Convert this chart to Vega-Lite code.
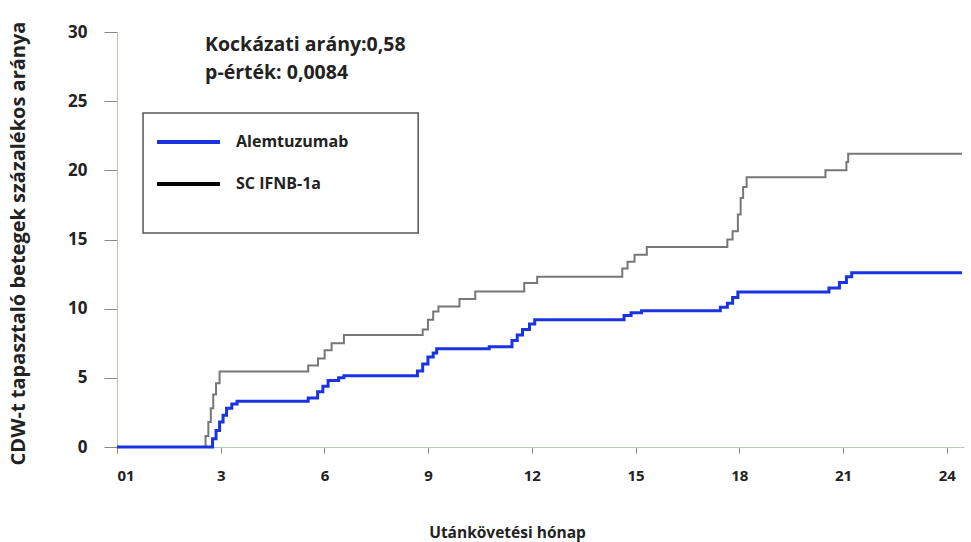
{
  "$schema": "https://vega.github.io/schema/vega-lite/v6.json",
  "width": 847,
  "height": 415,
  "autosize": {"type": "none"},
  "padding": {"left": 117, "top": 32, "right": 7, "bottom": 95},
  "background": "white",
  "config": {
    "view": {"stroke": null},
    "font": "Open Sans",
    "axis": {"grid": false, "labelFont": "Open Sans", "labelFontWeight": "bold", "labelColor": "#222", "titleFont": "Open Sans", "titleFontWeight": "bold", "titleColor": "#222", "domainColor": "#b3cfae", "tickColor": "#888"},
    "legend": {"labelFont": "Open Sans", "labelFontWeight": "bold", "labelColor": "#222"}
  },
  "datasets": {
    "curves": [
      {"m": 0, "v": 0, "g": "SC IFNB-1a"},
      {"m": 2.511, "v": 0, "g": "SC IFNB-1a"},
      {"m": 2.561, "v": 0.8, "g": "SC IFNB-1a"},
      {"m": 2.642, "v": 1.8, "g": "SC IFNB-1a"},
      {"m": 2.713, "v": 2.8, "g": "SC IFNB-1a"},
      {"m": 2.784, "v": 3.8, "g": "SC IFNB-1a"},
      {"m": 2.865, "v": 4.6, "g": "SC IFNB-1a"},
      {"m": 2.967, "v": 5.45, "g": "SC IFNB-1a"},
      {"m": 5.53, "v": 5.9, "g": "SC IFNB-1a"},
      {"m": 5.813, "v": 6.4, "g": "SC IFNB-1a"},
      {"m": 6.006, "v": 7.0, "g": "SC IFNB-1a"},
      {"m": 6.208, "v": 7.5, "g": "SC IFNB-1a"},
      {"m": 6.563, "v": 8.1, "g": "SC IFNB-1a"},
      {"m": 8.842, "v": 8.5, "g": "SC IFNB-1a"},
      {"m": 8.994, "v": 9.2, "g": "SC IFNB-1a"},
      {"m": 9.146, "v": 9.8, "g": "SC IFNB-1a"},
      {"m": 9.298, "v": 10.15, "g": "SC IFNB-1a"},
      {"m": 9.906, "v": 10.7, "g": "SC IFNB-1a"},
      {"m": 10.362, "v": 11.25, "g": "SC IFNB-1a"},
      {"m": 11.78, "v": 11.85, "g": "SC IFNB-1a"},
      {"m": 12.154, "v": 12.3, "g": "SC IFNB-1a"},
      {"m": 14.616, "v": 12.9, "g": "SC IFNB-1a"},
      {"m": 14.768, "v": 13.4, "g": "SC IFNB-1a"},
      {"m": 14.971, "v": 13.9, "g": "SC IFNB-1a"},
      {"m": 15.325, "v": 14.45, "g": "SC IFNB-1a"},
      {"m": 17.655, "v": 15.0, "g": "SC IFNB-1a"},
      {"m": 17.807, "v": 15.6, "g": "SC IFNB-1a"},
      {"m": 17.959, "v": 16.8, "g": "SC IFNB-1a"},
      {"m": 18.04, "v": 18.0, "g": "SC IFNB-1a"},
      {"m": 18.111, "v": 18.8, "g": "SC IFNB-1a"},
      {"m": 18.212, "v": 19.5, "g": "SC IFNB-1a"},
      {"m": 20.492, "v": 20.0, "g": "SC IFNB-1a"},
      {"m": 21.099, "v": 20.6, "g": "SC IFNB-1a"},
      {"m": 21.15, "v": 21.2, "g": "SC IFNB-1a"},
      {"m": 24.442, "v": 21.2, "g": "SC IFNB-1a"},
      {"m": 0, "v": 0, "g": "Alemtuzumab"},
      {"m": 2.663, "v": 0, "g": "Alemtuzumab"},
      {"m": 2.764, "v": 0.6, "g": "Alemtuzumab"},
      {"m": 2.865, "v": 1.2, "g": "Alemtuzumab"},
      {"m": 2.967, "v": 1.8, "g": "Alemtuzumab"},
      {"m": 3.068, "v": 2.3, "g": "Alemtuzumab"},
      {"m": 3.169, "v": 2.8, "g": "Alemtuzumab"},
      {"m": 3.321, "v": 3.1, "g": "Alemtuzumab"},
      {"m": 3.473, "v": 3.3, "g": "Alemtuzumab"},
      {"m": 5.53, "v": 3.55, "g": "Alemtuzumab"},
      {"m": 5.803, "v": 4.0, "g": "Alemtuzumab"},
      {"m": 5.955, "v": 4.4, "g": "Alemtuzumab"},
      {"m": 6.107, "v": 4.8, "g": "Alemtuzumab"},
      {"m": 6.411, "v": 5.0, "g": "Alemtuzumab"},
      {"m": 6.563, "v": 5.15, "g": "Alemtuzumab"},
      {"m": 8.69, "v": 5.5, "g": "Alemtuzumab"},
      {"m": 8.842, "v": 6.0, "g": "Alemtuzumab"},
      {"m": 8.994, "v": 6.5, "g": "Alemtuzumab"},
      {"m": 9.146, "v": 6.8, "g": "Alemtuzumab"},
      {"m": 9.247, "v": 7.1, "g": "Alemtuzumab"},
      {"m": 10.767, "v": 7.25, "g": "Alemtuzumab"},
      {"m": 11.425, "v": 7.7, "g": "Alemtuzumab"},
      {"m": 11.577, "v": 8.1, "g": "Alemtuzumab"},
      {"m": 11.729, "v": 8.5, "g": "Alemtuzumab"},
      {"m": 11.932, "v": 8.9, "g": "Alemtuzumab"},
      {"m": 12.083, "v": 9.2, "g": "Alemtuzumab"},
      {"m": 14.667, "v": 9.5, "g": "Alemtuzumab"},
      {"m": 14.869, "v": 9.7, "g": "Alemtuzumab"},
      {"m": 15.173, "v": 9.85, "g": "Alemtuzumab"},
      {"m": 17.452, "v": 10.1, "g": "Alemtuzumab"},
      {"m": 17.655, "v": 10.4, "g": "Alemtuzumab"},
      {"m": 17.807, "v": 10.8, "g": "Alemtuzumab"},
      {"m": 17.959, "v": 11.2, "g": "Alemtuzumab"},
      {"m": 20.593, "v": 11.5, "g": "Alemtuzumab"},
      {"m": 20.897, "v": 11.9, "g": "Alemtuzumab"},
      {"m": 21.099, "v": 12.3, "g": "Alemtuzumab"},
      {"m": 21.251, "v": 12.6, "g": "Alemtuzumab"},
      {"m": 24.442, "v": 12.6, "g": "Alemtuzumab"}
    ],
    "one": [{}]
  },
  "layer": [
    {
      "data": {"name": "one"},
      "mark": {"type": "rect", "fill": "white", "stroke": "#555", "strokeWidth": 1.5},
      "encoding": {
        "x": {"datum": 0.753, "type": "quantitative"},
        "x2": {"datum": 8.712},
        "y": {"datum": 24.15, "type": "quantitative"},
        "y2": {"datum": 15.47}
      }
    },
    {
      "data": {"name": "curves"},
      "transform": [{"filter": "datum.g == 'SC IFNB-1a'"}],
      "mark": {"type": "line", "interpolate": "step-after", "color": "#777777", "strokeWidth": 2},
      "encoding": {
        "x": {"field": "m", "type": "quantitative"},
        "y": {"field": "v", "type": "quantitative"}
      }
    },
    {
      "data": {"name": "curves"},
      "transform": [{"filter": "datum.g == 'Alemtuzumab'"}],
      "mark": {"type": "line", "interpolate": "step-after", "strokeWidth": 3},
      "encoding": {
        "x": {"field": "m", "type": "quantitative", "scale": {"domain": [0, 24.5], "nice": false},
          "axis": {"values": [0, 3, 6, 9, 12, 15, 18, 21, 24], "labelExpr": "datum.value == 0 ? '01' : datum.label", "labelFontSize": 15, "tickSize": 6, "labelPadding": 15, "title": "Utánkövetési hónap", "titleFontSize": 15.5, "titleX": 390, "titleY": 85, "titleBaseline": "middle"}},
        "y": {"field": "v", "type": "quantitative", "scale": {"domain": [0, 30], "nice": false},
          "axis": {"values": [0, 5, 10, 15, 20, 25, 30], "labelFontSize": 17, "tickSize": 13, "labelPadding": 17, "title": "CDW-t tapasztaló betegek százalékos aránya", "titleFontSize": 20, "titleX": -99, "titleY": 211, "titleBaseline": "middle"}},
        "color": {"field": "g", "type": "nominal", "scale": {"domain": ["Alemtuzumab", "SC IFNB-1a"], "range": ["#1a33e0", "#000000"]},
          "legend": {"title": null, "orient": "none", "legendX": 38, "legendY": 76.5, "symbolType": "stroke", "symbolSize": 3969, "symbolStrokeWidth": 4, "labelFontSize": 16, "labelOffset": 14, "rowPadding": -23, "padding": 0}}
      }
    },
    {
      "data": {"name": "one"},
      "mark": {"type": "text", "text": "Kockázati arány:0,58", "align": "left", "baseline": "middle", "font": "Open Sans", "fontWeight": "bold", "fontSize": 19.5, "color": "#222"},
      "encoding": {"x": {"datum": 2.547, "type": "quantitative"}, "y": {"datum": 29.07, "type": "quantitative"}}
    },
    {
      "data": {"name": "one"},
      "mark": {"type": "text", "text": "p-érték: 0,0084", "align": "left", "baseline": "middle", "font": "Open Sans", "fontWeight": "bold", "fontSize": 19.5, "color": "#222"},
      "encoding": {"x": {"datum": 2.547, "type": "quantitative"}, "y": {"datum": 27.04, "type": "quantitative"}}
    }
  ]
}
